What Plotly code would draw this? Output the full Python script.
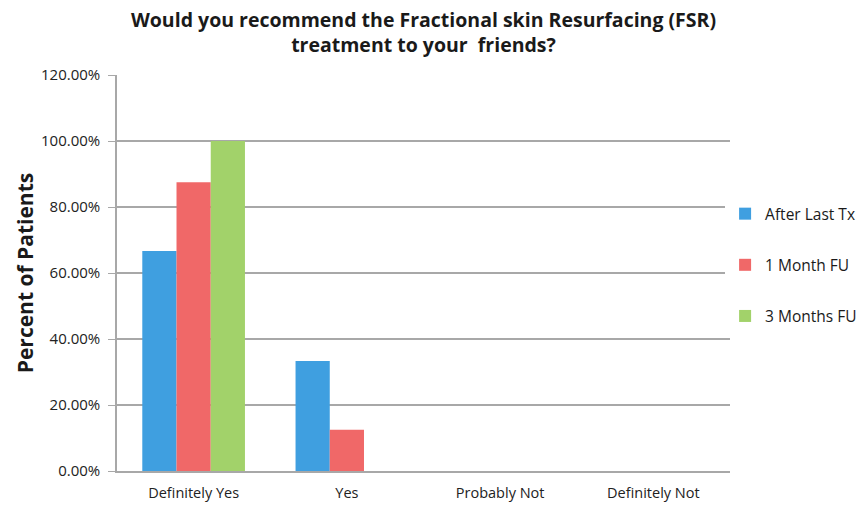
import plotly.graph_objects as go

categories = ["Definitely Yes", "Yes", "Probably Not", "Definitely Not"]
series_names = ["After Last Tx", "1 Month FU", "3 Months FU"]
after_last_tx = [0.6667, 0.3333, 0, 0]
one_month_fu = [0.875, 0.125, 0, 0]
three_months_fu = [1.0, 0, 0, 0]
colors = ["#3f9fe0", "#f06868", "#a2d26a"]
y_ticks = [0, 0.2, 0.4, 0.6, 0.8, 1.0, 1.2]

fig = go.Figure()
for i, (name, vals) in enumerate(zip(series_names, [after_last_tx, one_month_fu, three_months_fu])):
    fig.add_trace(go.Bar(x=categories, y=vals, name=name, marker_color=colors[i],
                         marker_line_width=0, legendgroup=f"g{i}"))

fig.update_layout(
    width=867, height=505,
    margin=dict(l=117, r=137, t=75, b=34, autoexpand=False),
    paper_bgcolor="white", plot_bgcolor="white",
    barmode="group", bargap=0.33, bargroupgap=0,
    font=dict(family="Open Sans, Liberation Sans, sans-serif", color="#222"),
    title=dict(text="<b>Would you recommend the Fractional skin Resurfacing (FSR)<br>treatment to your  friends?</b>",
               x=0.5, xanchor="center", xref="paper", yref="container", y=1 - 27 / 505, yanchor="top",
               font=dict(size=19.5, color="#1a1a1a")),
    legend=dict(x=0.992, xanchor="left", y=0.52, yanchor="middle",
                font=dict(size=15.5, color="#1a1a1a"), tracegroupgap=28,
                itemwidth=30, traceorder="grouped"),
    showlegend=True,
)
fig.update_yaxes(range=[0, 1.2], tickvals=y_ticks, tickformat=".2%",
                 showgrid=True, gridcolor="#a8a8a8", gridwidth=1.5,
                 showline=True, linecolor="#a8a8a8", linewidth=1.5,
                 ticks="outside", ticklen=7, tickcolor="#a8a8a8",
                 ticklabelstandoff=5,
                 tickfont=dict(size=15, color="#222"),
                 title=dict(text="<b>Percent of Patients</b>", font=dict(size=21, color="#1a1a1a"), standoff=2),
                 zeroline=False)
fig.update_xaxes(showline=True, linecolor="#a8a8a8", linewidth=1.5,
                 ticklabelstandoff=8,
                 tickfont=dict(size=14.5, color="#222"), ticks="")

fig.write_html("out.html")
